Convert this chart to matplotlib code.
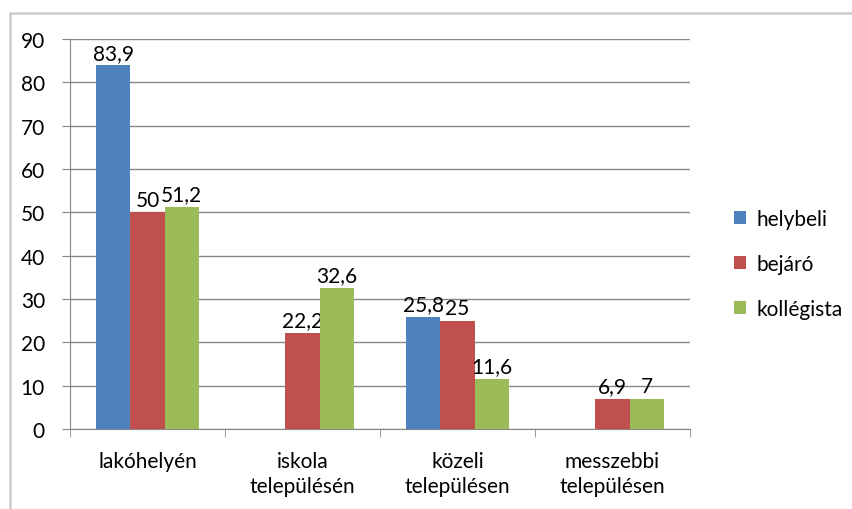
import matplotlib
matplotlib.use('Agg')
import matplotlib.pyplot as plt
import numpy as np
from matplotlib.lines import Line2D

categories = ['lakóhelyén', 'iskola\ntelepülésén', 'közeli\ntelepülésen', 'messzebbi\ntelepülésen']
series = ['helybeli', 'bejáró', 'kollégista']
helybeli = [83.9, np.nan, 25.8, np.nan]
bejaro = [50, 22.2, 25, 6.9]
kollegista = [51.2, 32.6, 11.6, 7]
colors = ['#4F81BD', '#C0504D', '#9BBB59']
yticks = [0, 10, 20, 30, 40, 50, 60, 70, 80, 90]

plt.rcParams['font.family'] = ['Lato', 'DejaVu Sans']

fig = plt.figure(figsize=(8.53, 5.10), dpi=100)
ax = fig.add_axes([70 / 853, 1 - 430 / 510, 620 / 853, 390 / 510])

# outer chart border: only top and left edges show
bx, by = 10 / 853, 1 - 14 / 510
fig.lines.append(Line2D([bx, bx, 1.0], [0, by, by], transform=fig.transFigure,
                        color='#cccccc', linewidth=1.8))

x = np.arange(len(categories))
w = 0.22
for i, (vals, col, name) in enumerate(zip([helybeli, bejaro, kollegista], colors, series)):
    bars = ax.bar(x + (i - 1) * w, vals, w, color=col, label=name, zorder=3)
    labels = ['' if np.isnan(v) else ('%g' % v).replace('.', ',') for v in vals]
    ax.bar_label(bars, labels=labels, padding=2, fontsize=15, color='#000000')

ax.set_xlim(-0.5, len(categories) - 0.5)
ax.set_ylim(0, 90)
ax.set_yticks(yticks)
ax.yaxis.grid(True, color='#868686', linewidth=1, zorder=0)
ax.set_axisbelow(True)

ax.set_xticks(x)
ax.set_xticklabels(categories, fontsize=15, linespacing=1.3)
ax.set_xticks(np.arange(len(categories) + 1) - 0.5, minor=True)
ax.tick_params(axis='x', which='major', length=0, pad=16)
ax.tick_params(axis='x', which='minor', length=6, color='#868686')
ax.tick_params(axis='y', length=6, color='#868686', labelsize=15, pad=12)

for s in ['top', 'right']:
    ax.spines[s].set_visible(False)
ax.spines['left'].set_color('#868686')
ax.spines['bottom'].set_color('#868686')

ax.legend(loc='center left', bbox_to_anchor=(1.04, 1 - (265 - 40) / 390), frameon=False,
          fontsize=15, handlelength=0.6, handleheight=0.6, labelspacing=1.2,
          handletextpad=0.5)

plt.savefig('out.png', dpi=100)
